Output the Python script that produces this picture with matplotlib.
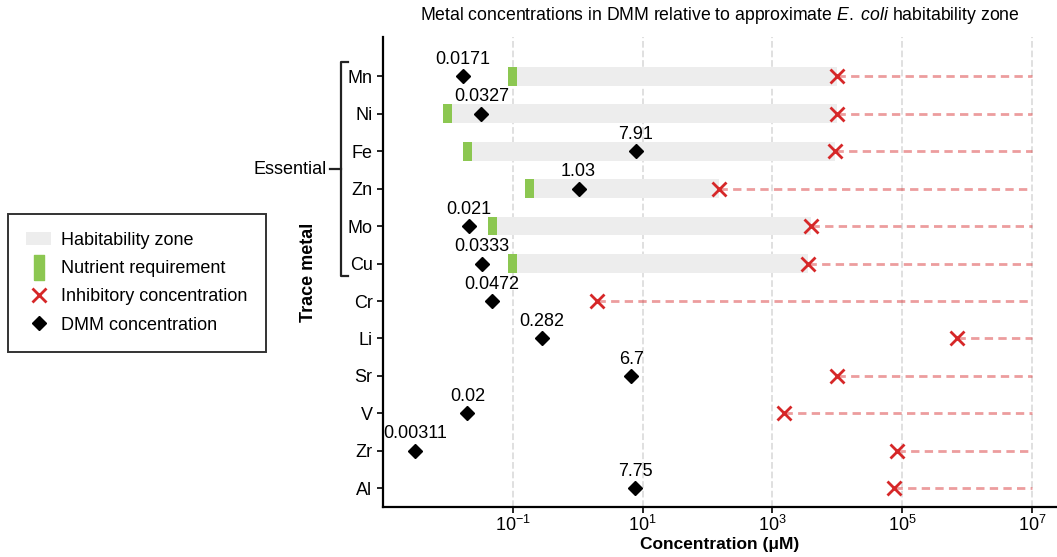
import matplotlib
matplotlib.use("Agg")
import matplotlib.pyplot as plt
from matplotlib.lines import Line2D
from matplotlib.patches import Patch
from matplotlib.ticker import NullLocator

plt.rcParams["font.family"] = ["Liberation Sans", "DejaVu Sans"]
plt.rcParams["mathtext.fontset"] = "custom"
plt.rcParams["mathtext.rm"] = "Liberation Sans"
plt.rcParams["mathtext.it"] = "Liberation Sans:italic"
plt.rcParams["mathtext.bf"] = "Liberation Sans:bold"

metals = ["Mn", "Ni", "Fe", "Zn", "Mo", "Cu", "Cr", "Li", "Sr", "V", "Zr", "Al"]
essential = ["Mn", "Ni", "Fe", "Zn", "Mo", "Cu"]

# concentrations in uM
dmm = [0.0171, 0.0327, 7.91, 1.03, 0.021, 0.0333, 0.0472, 0.282, 6.7, 0.02, 0.00311, 7.75]
nutrient_req = [0.1, 0.01, 0.02, 0.18, 0.048, 0.1]
inhibitory = [1e4, 1e4, 9.3e3, 150, 4000, 3500, 2.0, 7e5, 1e4, 1500, 8.3e4, 7.6e4]
upper_limit = 1e7

zone_color = "#ededed"
green = "#8cc751"
red = "#d62728"
fs = 13

fig = plt.figure(figsize=(10.57, 5.57), dpi=100)
ax = fig.add_axes([383 / 1057, 50 / 557, 673 / 1057, 470 / 557])
ax.set_xscale("log")

ypos = list(range(len(metals)))
half = 10 ** 0.07

# habitability zone and nutrient requirement for essential metals
for i, name in enumerate(essential):
    lo = nutrient_req[i] / half
    ax.barh(i, inhibitory[i] - lo, left=lo, height=0.5, color=zone_color, zorder=1)
    ax.barh(i, nutrient_req[i] * half - lo, left=lo, height=0.5, color=green, zorder=2)

# inhibitory concentration and dashed extension to the upper limit
for y, inh in zip(ypos, inhibitory):
    ax.plot([inh, upper_limit], [y, y], color=red, alpha=0.45, lw=2,
            linestyle=(0, (3, 1.9)), zorder=2)
ax.plot(inhibitory, ypos, linestyle="none", marker="x", ms=10, mew=2,
        color=red, zorder=4)

# DMM concentrations with labels
ax.plot(dmm, ypos, linestyle="none", marker="D", ms=7, color="black", zorder=5)
for y, v in zip(ypos, dmm):
    ax.annotate(f"{v:g}", (v, y), textcoords="offset points", xytext=(0, 6),
                ha="center", va="bottom", fontsize=fs, zorder=6)

ax.set_xlim(1e-3, 10 ** 7.37)
ax.set_ylim(11.5, -1.05)
ax.set_yticks(ypos)
ax.set_yticklabels(metals)
ax.set_xticks([1e-1, 1e1, 1e3, 1e5, 1e7])
ax.xaxis.set_minor_locator(NullLocator())
ax.tick_params(axis="both", labelsize=fs, length=4, width=1.2)
ax.tick_params(axis="x", pad=2)
ax.grid(True, axis="x", color="#dddddd", linestyle="--", lw=1.3, zorder=0)
ax.set_axisbelow(True)
for side in ["top", "right"]:
    ax.spines[side].set_visible(False)
for side in ["left", "bottom"]:
    ax.spines[side].set_linewidth(1.6)

ax.set_xlabel("Concentration (μM)", fontsize=12.5, fontweight="bold", labelpad=1)
ax.set_ylabel("Trace metal", fontsize=fs, fontweight="bold", labelpad=22)
ax.set_title(r"Metal concentrations in DMM relative to approximate $\it{E.\ coli}$ habitability zone",
             fontsize=12.7, pad=12)

# bracket grouping the essential metals
tr = ax.get_yaxis_transform()
bx = -42 / 673
tip = 7 / 673
top, bot = -0.37, 5.32
ax.plot([bx + tip, bx, bx, bx + tip], [top, top, bot, bot], transform=tr,
        color="#222222", lw=1.6, clip_on=False)
mid = (top + bot) / 2
ax.plot([bx - 11 / 673, bx], [mid, mid], transform=tr, color="#222222", lw=1.6,
        clip_on=False)
ax.text(bx - 14 / 673, mid, "Essential", transform=tr, ha="right", va="center",
        fontsize=fs)

# legend placed left of the axes
rect_marker = [(-1, -2.3), (1, -2.3), (1, 2.3), (-1, 2.3), (-1, -2.3)]
handles = [
    Patch(facecolor=zone_color, edgecolor="none", label="Habitability zone"),
    Line2D([], [], linestyle="none", marker=rect_marker, ms=18, color=green,
           label="Nutrient requirement"),
    Line2D([], [], linestyle="none", marker="x", ms=10, mew=2, color=red,
           label="Inhibitory concentration"),
    Line2D([], [], linestyle="none", marker="D", ms=7, color="black",
           label="DMM concentration"),
]
leg = fig.legend(handles=handles, loc="upper left", bbox_to_anchor=(8 / 1057, 1 - 214 / 557),
                 fontsize=fs, frameon=True, fancybox=False, labelspacing=0.62,
                 borderpad=1.0, handlelength=1.4, handletextpad=0.55, borderaxespad=0)
leg.get_frame().set_edgecolor("black")
leg.get_frame().set_linewidth(1.4)

fig.savefig("out.png", dpi=100)
plt.close(fig)
